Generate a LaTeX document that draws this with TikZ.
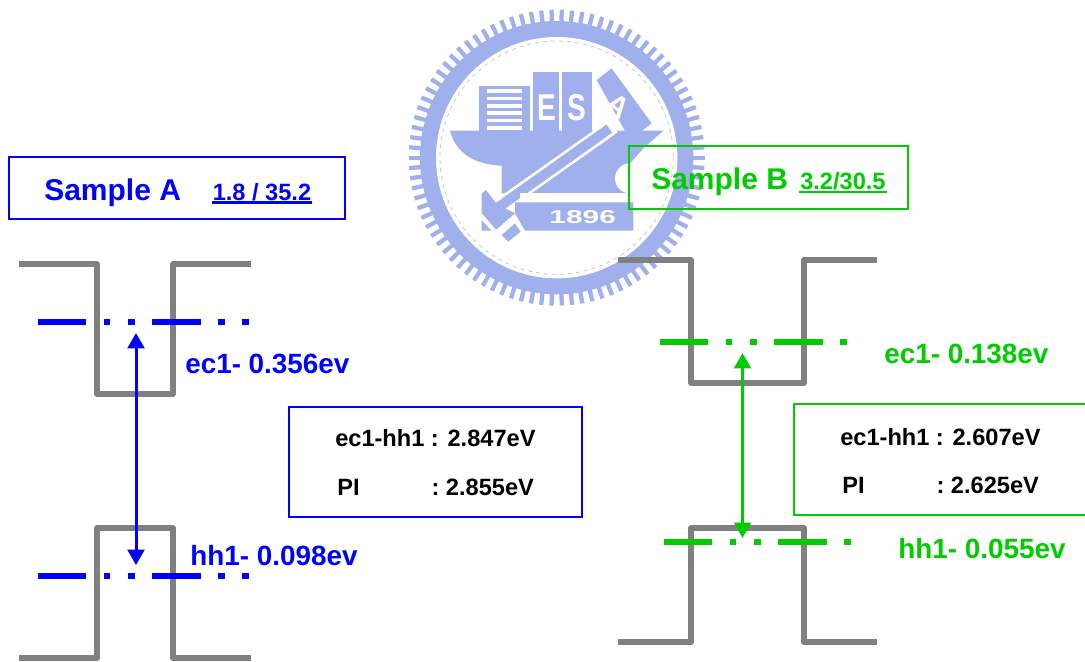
\documentclass[tikz,border=0pt]{standalone}
\usepackage{fontspec}
\setmainfont{Liberation Sans}
\usepackage{xcolor}
\definecolor{bluea}{RGB}{0,0,255}
\definecolor{greenb}{RGB}{0,204,0}
\definecolor{wellgray}{RGB}{128,128,128}
\definecolor{logoblue}{RGB}{160,176,236}
\definecolor{logoline}{RGB}{190,200,225}
\usetikzlibrary{arrows.meta}
\usepackage{tikz}

\begin{document}
\begin{tikzpicture}[x=0.75pt,y=-0.75pt,font=\bfseries,
      box style/.style={rectangle,draw=#1,line width=1.5pt,fill=none,anchor=north west,inner sep=0pt,outer sep=0pt},
      title style/.style={text=#1,anchor=base west,inner sep=0pt,font=\bfseries\fontsize{22.5}{27}\selectfont},
      range style/.style={text=#1,anchor=base west,inner sep=0pt,font=\bfseries\fontsize{17.7}{21}\selectfont},
      under style/.style={draw=#1,line width=1.9pt},
      energy style/.style={text=#1,anchor=base west,inner sep=0pt,font=\bfseries\fontsize{20.9}{25}\selectfont},
      gap style/.style={text=black,anchor=base west,inner sep=0pt,font=\bfseries\fontsize{17.7}{20}\selectfont},
      well style/.style={draw=wellgray,line width=4pt,line join=round},
      level style/.style={draw=#1,line width=5pt,dash pattern=on 36.2pt off 13.1pt on 5pt off 13.2pt on 5pt off 13.3pt},
      trans style/.style={draw=#1,fill=#1,line width=2.25pt,{Triangle[width=12.5pt,length=11.5pt]}-{Triangle[width=12.5pt,length=11.5pt]}},
      logo text/.style={text=white,inner sep=0pt,font=\bfseries\fontsize{#1}{#1}\selectfont}
      ]
      \useasboundingbox (0,0) rectangle (1085,661);

      \begin{scope}[shift={(400,0)},x=0.25pt,y=-0.25pt]
        \foreach \a in {0,4,...,356} {
          \draw[logoblue,line width=3.2pt] (470,473)+(\a:400) -- +(\a:444);
        }
        \fill[logoblue] (470,473) circle (410);
        \fill[white] (470,473) circle (362);
        \draw[logoline,line width=0.6pt,dashed] (470,473) circle (350);
        \fill[logoblue] (238,257) rectangle (390,392);
        \foreach \y in {268,290,312,334,356,378} {
          \fill[white] (260,\y) rectangle (365,\y+11);
        }
        \fill[logoblue] (400,215) rectangle (478,392);
        \fill[logoblue] (487,215) rectangle (575,392);
        \fill[logoblue] (590,240) -- (635,205) -- (755,370) -- (690,420) -- cycle;
        \fill[logoblue] (150,392) -- (790,392) -- (730,445) -- (690,490) -- (690,580) -- (305,580) -- (305,497)
          .. controls (240,495) and (170,470) .. cycle;
        \fill[white] (690,535) circle (45);
        \draw[white,line width=11.5pt] (300,618) -- (640,378);
        \draw[logoblue,line width=7.5pt] (295,622) -- (628,386);
        \fill[white] (360,580) rectangle (700,607);
        \fill[logoblue] (345,607) -- (700,607) -- (700,692) -- (375,692) -- (345,640) -- cycle;
        \fill[logoblue] (245,692) -- (245,580) -- (258,570) -- (290,612) -- (345,640) -- (310,670) -- (285,692) -- cycle;
        \fill[white] (245,640) -- (290,692) -- (275,692) -- (245,660) -- cycle;
        \fill[logoblue] (305,705) -- (345,670) -- (362,695) -- (325,725) -- cycle;
        \node[logo text=28,xscale=0.75] (logoE) at (440,324) {E};
        \node[logo text=28,xscale=0.75] (logoS) at (530,324) {S};
        \node[logo text=22,rotate=-37] (logoA) at (655,316) {A};
        \node[logo text=14,xscale=1.6] (logoyear) at (548,651) {1896};
      \end{scope}

      \node[box style=bluea,minimum width=252pt,minimum height=46.5pt] (boxA) at (9,157) {};
      \node[title style=bluea] (sampleA) at (44,200) {Sample A};
      \node[range style=bluea] (rangeA) at (212.5,200) {1.8 / 35.2};
      \draw[under style=bluea] ([yshift=-1.9pt,xshift=-0.5pt]rangeA.base west) -- ([yshift=-1.9pt,xshift=0.5pt]rangeA.base east);

      \node[box style=greenb,minimum width=209pt,minimum height=47.25pt] (boxB) at (629,146) {};
      \node[title style=greenb] (sampleB) at (651,189) {Sample B};
      \node[range style=greenb] (rangeB) at (800,189.5) {3.2/30.5};
      \draw[under style=greenb] ([yshift=-1.9pt,xshift=-0.5pt]rangeB.base west) -- ([yshift=-1.9pt,xshift=0.5pt]rangeB.base east);

      \draw[well style] (19,264) -- (97,264) -- (97,394) -- (173,394) -- (173,264) -- (251,264);
      \draw[well style] (19,658) -- (97,658) -- (97,528) -- (173,528) -- (173,658) -- (251,658);
      \draw[well style] (618,260) -- (691,260) -- (691,383) -- (804,383) -- (804,260) -- (877,260);
      \draw[well style] (618,642) -- (691,642) -- (691,528) -- (804,528) -- (804,642) -- (877,642);

      \coordinate (ecA west) at (38,322);
      \coordinate (ecA east) at (250,322);
      \coordinate (hhA west) at (38,576);
      \coordinate (hhA east) at (250,576);
      \coordinate (ecB west) at (660,342);
      \coordinate (ecB east) at (847,342);
      \coordinate (hhB west) at (664,542);
      \coordinate (hhB east) at (851,542);
      \draw[level style=bluea] (ecA west) -- (ecA east);
      \draw[level style=bluea] (hhA west) -- (hhA east);
      \draw[level style=greenb] (ecB west) -- (ecB east);
      \draw[level style=greenb] (hhB west) -- (hhB east);

      \coordinate (topA) at (136,333);
      \coordinate (botA) at (136,565);
      \coordinate (topB) at (742.5,353);
      \coordinate (botB) at (742.5,538);
      \draw[trans style=bluea] (topA) -- (botA);
      \draw[trans style=greenb] (topB) -- (botB);

      \node[energy style=bluea] (ecA) at (185,373) {ec1- 0.356ev};
      \node[energy style=bluea] (hhA) at (190,565) {hh1- 0.098ev};
      \node[energy style=greenb] (ecB) at (884,363) {ec1- 0.138ev};
      \node[energy style=greenb] (hhB) at (898,558) {hh1- 0.055ev};

      \node[box style=bluea,minimum width=219.5pt,minimum height=82pt] (infoA) at (289,407.3) {};
      \node[gap style] (gapA) at (335,446.5) {ec1-hh1 : 2.847eV};
      \node[gap style] (piA) at (337,495) {PI\hspace{54pt}: 2.855eV};

      \node[box style=greenb,minimum width=228pt,minimum height=83pt] (infoB) at (794,404) {};
      \node[gap style] (gapB) at (840,445) {ec1-hh1 : 2.607eV};
      \node[gap style] (piB) at (842,493) {PI\hspace{54pt}: 2.625eV};
    \end{tikzpicture}
\end{document}
